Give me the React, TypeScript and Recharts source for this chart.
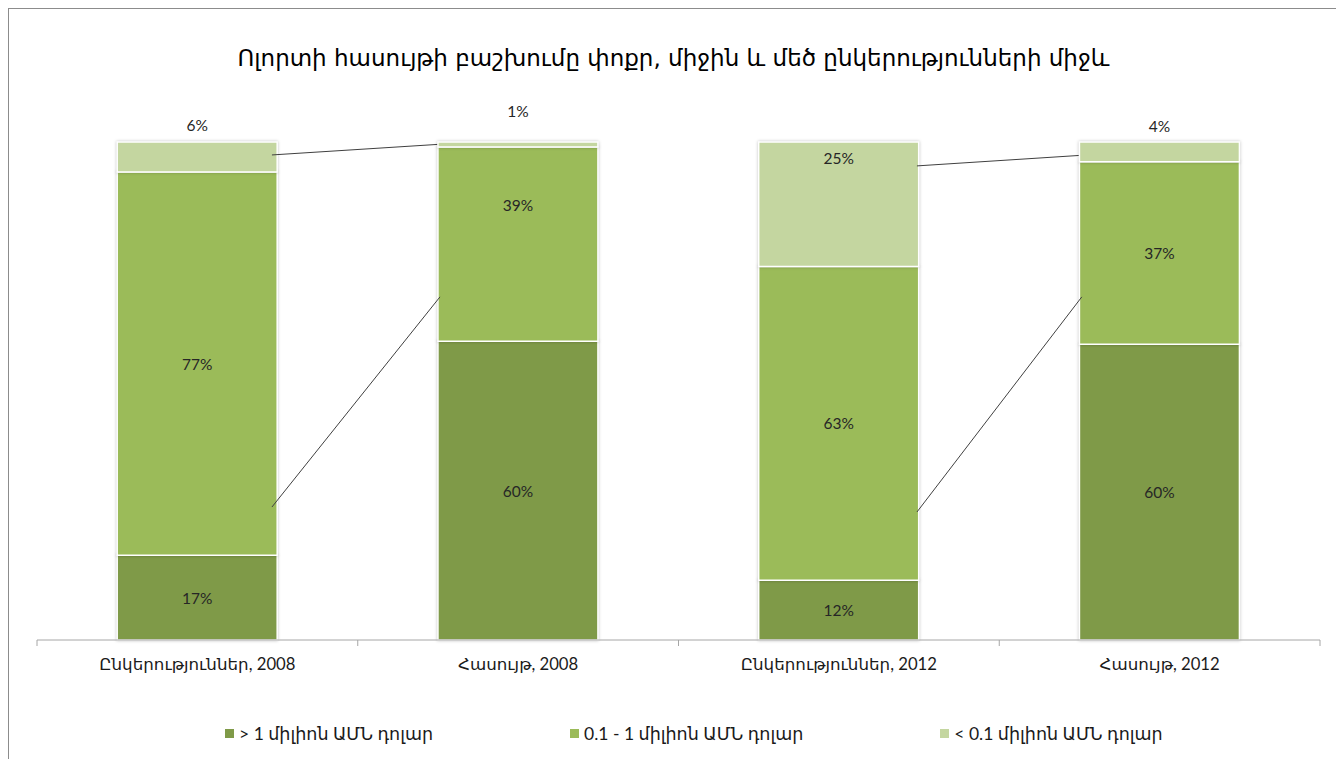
import React from "react";
import { BarChart, Bar, XAxis, YAxis, LabelList, Legend, Rectangle } from "recharts";

const categories = ["Ընկերություններ, 2008", "Հասույթ, 2008", "Ընկերություններ, 2012", "Հասույթ, 2012"];
const largeShare = [17, 60, 12, 60];
const mediumShare = [77, 39, 63, 37];
const smallShare = [6, 1, 25, 4];
const seriesNames = ["> 1 միլիոն ԱՄՆ դոլար", "0.1 - 1 միլիոն ԱՄՆ դոլար", "< 0.1 միլիոն ԱՄՆ դոլար"];
const title = "Ոլորտի հասույթի բաշխումը փոքր, միջին և մեծ ընկերությունների միջև";

// connector lines: from bar connectorBar[i] (x in category units, y as share of the bar height)
const connectorBar = [0, 0, 2, 2];
const connectorStartX = [0.733, 0.733, 2.744, 2.744];
const connectorEndX = [1.27, 1.257, 3.274, 3.258];
const connectorStartY = [0.974, 0.267, 0.952, 0.257];
const connectorEndY = [0.996, 0.689, 0.974, 0.689];

const COLORS = ["#7F9A48", "#9BBB59", "#C4D6A0"];

const data = categories.map((c, i) => ({
  name: c,
  large: largeShare[i],
  medium: mediumShare[i],
  small: smallShare[i],
}));

const CHART_W = 1329;
const CHART_H = 760;
const X_AXIS_H = 30;
const MARGIN = { top: 133, right: 18, bottom: 99, left: 28 };
const PLOT_W = CHART_W - MARGIN.left - MARGIN.right;
const PLOT_H = CHART_H - MARGIN.top - MARGIN.bottom - X_AXIS_H;
const BAND_W = PLOT_W / categories.length;
const HALF_BAND = BAND_W / 2;

const ARM_FONT = "Lato, 'DejaVu Sans', sans-serif";
const NUM_FONT = "Lato, 'DejaVu Sans', sans-serif";

const AxisTick = (props: any) => {
  const { x, y, payload, index } = props;
  const last = index === categories.length - 1;
  return (
    <g>
      <line x1={x - HALF_BAND} y1={y} x2={x - HALF_BAND} y2={y + 6} stroke="#A6A6A6" />
      {last && <line x1={x + HALF_BAND} y1={y} x2={x + HALF_BAND} y2={y + 6} stroke="#A6A6A6" />}
      <text x={x} y={y + 30} textAnchor="middle" fontFamily={ARM_FONT} fontSize={16.7} fill="#1a1a1a">
        {payload.value}
      </text>
    </g>
  );
};

const centerLabel = (values: number[], shift: number[]) => (p: any) => {
  const { x, y, width, height, index } = p;
  return (
    <text
      x={x + width / 2}
      y={y + height / 2 + (shift[index] || 0)}
      textAnchor="middle"
      dominantBaseline="central"
      fontFamily={NUM_FONT}
      fontSize={15.5}
      fill="#262626"
    >
      {values[index]}%
    </text>
  );
};

const mediumShift = [0, -39, 0, 0];
const smallLabelDy = [-17, -31, 16, -16];

const smallLabel = (p: any) => {
  const { x, y, width, index } = p;
  return (
    <text
      x={x + width / 2}
      y={y + smallLabelDy[index]}
      textAnchor="middle"
      dominantBaseline="central"
      fontFamily={NUM_FONT}
      fontSize={15.5}
      fill="#262626"
    >
      {smallShare[index]}%
    </text>
  );
};

// small-share segment; also draws the connector lines that start at this bar
const SmallShape = (props: any) => {
  const { index, background } = props;
  const plotTop = background && background.height ? background.y : MARGIN.top;
  const plotH = background && background.height ? background.height : PLOT_H;
  const plotLeft = (background && background.width ? background.x + background.width / 2 : props.x + props.width / 2) - (index + 0.5) * BAND_W;
  const px = (u: number) => plotLeft + u * BAND_W;
  const py = (v: number) => plotTop + plotH * (1 - v);
  return (
    <g>
      <Rectangle {...props} />
      {connectorBar.map((b, i) =>
        b === index ? (
          <line
            key={i}
            x1={px(connectorStartX[i])}
            y1={py(connectorStartY[i])}
            x2={px(connectorEndX[i])}
            y2={py(connectorEndY[i])}
            stroke="#404040"
            strokeWidth={1}
          />
        ) : null
      )}
    </g>
  );
};

const LegendContent = () => (
  <div
    style={{
      position: "absolute",
      left: 0,
      top: 0,
      width: CHART_W,
      display: "flex",
      justifyContent: "flex-start",
      gap: 137,
      paddingLeft: 216,
      boxSizing: "border-box",
      fontFamily: ARM_FONT,
      fontSize: 17.5,
      color: "#1a1a1a",
      whiteSpace: "nowrap",
    }}
  >
    {seriesNames.map((n, i) => (
      <div key={n} style={{ display: "flex", alignItems: "center" }}>
        <span style={{ display: "inline-block", width: 9, height: 9, background: COLORS[i], marginRight: 5 }} />
        <span>{n}</span>
      </div>
    ))}
  </div>
);

const barStyle = { filter: "drop-shadow(0px 0px 1.5px rgba(0,0,0,0.25))" };

export default function App() {
  return (
    <div
      style={{
        position: "relative",
        width: CHART_W,
        height: CHART_H,
        border: "1.5px solid #8C8C8C",
        background: "#fff",
      }}
    >
      <div
        style={{
          position: "absolute",
          top: 36,
          left: 0,
          width: CHART_W,
          textAlign: "center",
          fontFamily: "'DejaVu Sans', serif",
          fontSize: 23,
          color: "#000",
          whiteSpace: "nowrap",
        }}
      >
        {title}
      </div>
      <BarChart width={CHART_W} height={CHART_H} data={data} margin={MARGIN} stackOffset="expand" barCategoryGap="25%">
        <XAxis
          dataKey="name"
          axisLine={{ stroke: "#A6A6A6" }}
          tickLine={false}
          tickSize={0}
          tickMargin={0}
          tick={<AxisTick />}
          interval={0}
          height={X_AXIS_H}
        />
        <YAxis hide domain={[0, 1]} />
        <Legend verticalAlign="bottom" content={<LegendContent />} wrapperStyle={{ top: 714, bottom: "auto", left: 0, width: CHART_W, height: 0 }} />
        <Bar dataKey="large" name={seriesNames[0]} stackId="a" fill={COLORS[0]} stroke="#fff" strokeWidth={1.5} style={barStyle} isAnimationActive={false}>
          <LabelList dataKey="large" content={centerLabel(largeShare, [0, 0, 0, 0])} />
        </Bar>
        <Bar dataKey="medium" name={seriesNames[1]} stackId="a" fill={COLORS[1]} stroke="#fff" strokeWidth={1.5} style={barStyle} isAnimationActive={false}>
          <LabelList dataKey="medium" content={centerLabel(mediumShare, mediumShift)} />
        </Bar>
        <Bar dataKey="small" name={seriesNames[2]} stackId="a" fill={COLORS[2]} stroke="#fff" strokeWidth={1.5} style={barStyle} shape={<SmallShape />} isAnimationActive={false}>
          <LabelList dataKey="small" content={smallLabel} />
        </Bar>
      </BarChart>
    </div>
  );
}
